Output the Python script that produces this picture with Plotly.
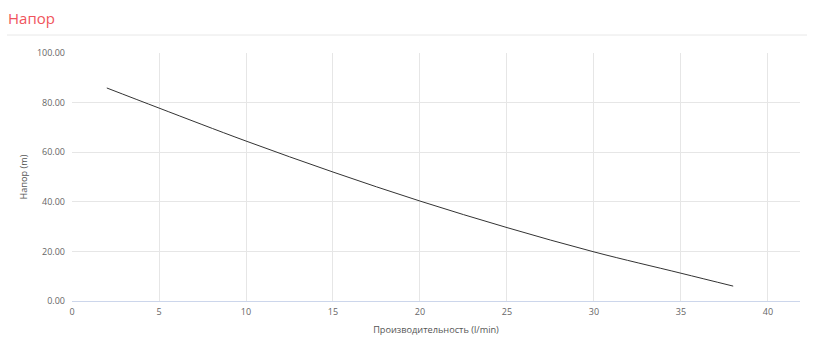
import plotly.graph_objects as go

flow = [2, 5, 10, 15, 20, 25, 30, 35, 38]
head = [85.9, 77.8, 64.5, 52.0, 40.3, 29.6, 19.8, 11.2, 6.0]
x_ticks = [0, 5, 10, 15, 20, 25, 30, 35, 40]
y_ticks = [0, 20, 40, 60, 80, 100]

W, H = 817, 351
L, R, T, B = 72, 17, 53, 50
pw, ph = W - L - R, H - T - B

fig = go.Figure(go.Scatter(
    x=flow, y=head, mode="lines",
    line=dict(color="#333333", width=1, shape="spline"),
    hoverinfo="x+y", showlegend=False,
))

tick_font = dict(family="Open Sans, sans-serif", size=9, color="#666666")
title_font = dict(family="Open Sans, sans-serif", size=9.2, color="#555555")
fig.update_layout(
    width=W, height=H,
    margin=dict(l=L, r=R, t=T, b=B),
    paper_bgcolor="white", plot_bgcolor="white",
    font=dict(family="Open Sans, sans-serif"),
    xaxis=dict(
        range=[0, 41.84], tickvals=x_ticks, ticktext=[str(v) for v in x_ticks],
        showgrid=True, gridcolor="#e6e6e6", gridwidth=1,
        zeroline=False, showline=True, linecolor="#ccd6eb", linewidth=1,
        ticks="", tickfont=tick_font, ticklabelstandoff=2,
        title=dict(text="Производительность (l/min)", font=title_font, standoff=9),
    ),
    yaxis=dict(
        range=[0, 100], tickvals=y_ticks, ticktext=[f"{v:.2f}" for v in y_ticks],
        showgrid=True, gridcolor="#e6e6e6", gridwidth=1,
        zeroline=False, showline=False, ticks="", tickfont=tick_font,
        ticklabelstandoff=6,
        title=dict(text="Напор (m)", font=title_font, standoff=7),
    ),
    annotations=[dict(
        text="Напор", xref="paper", yref="paper",
        x=(6 - L) / pw, y=1 + (T - 18) / ph, xanchor="left", yanchor="middle",
        showarrow=False,
        font=dict(family="Open Sans, sans-serif", size=15, color="#f0545c"),
    )],
    shapes=[dict(
        type="line", xref="paper", yref="paper",
        x0=(7 - L) / pw, x1=(807 - L) / pw,
        y0=1 + (T - 35) / ph, y1=1 + (T - 35) / ph,
        line=dict(color="#e8e8e8", width=1),
    )],
)

fig.write_html("out.html")
